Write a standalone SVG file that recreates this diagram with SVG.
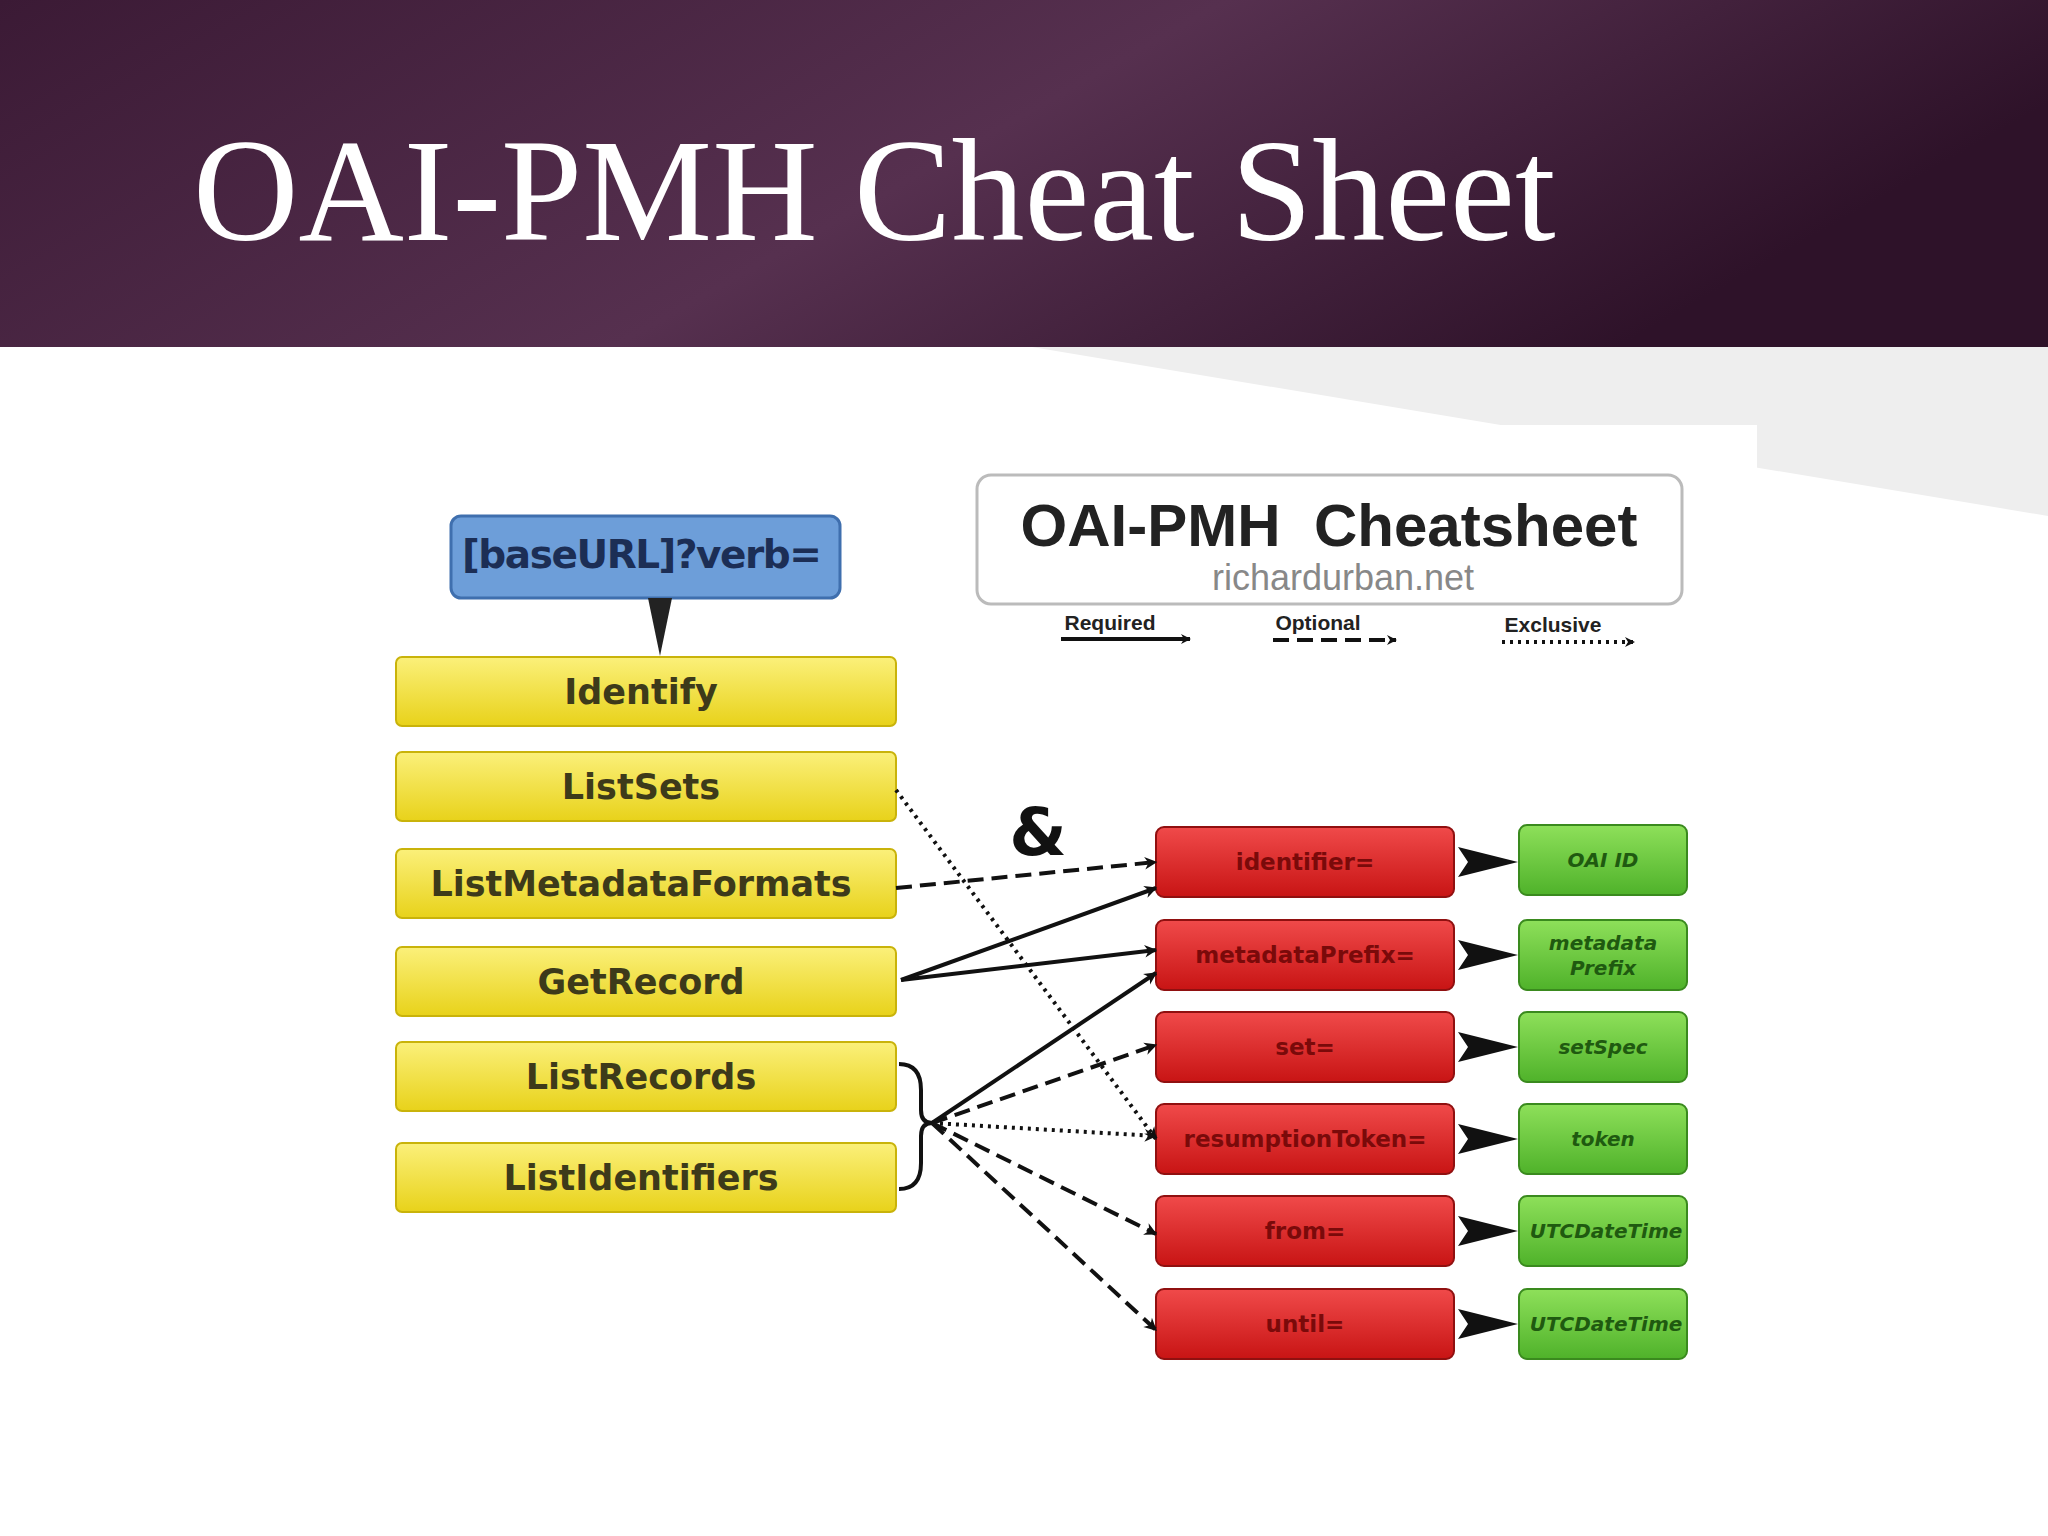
<svg xmlns="http://www.w3.org/2000/svg" width="2048" height="1536" viewBox="0 0 2048 1536">
<defs>
<linearGradient id="hdr" x1="0" y1="0" x2="1" y2="0.3">
<stop offset="0" stop-color="#3b1a35"/><stop offset="0.55" stop-color="#56304f"/><stop offset="1" stop-color="#2e1229"/>
</linearGradient>
<linearGradient id="yel" x1="0" y1="0" x2="0" y2="1"><stop offset="0" stop-color="#fbf07a"/><stop offset="1" stop-color="#e8d21a"/></linearGradient>
<linearGradient id="red" x1="0" y1="0" x2="0" y2="1"><stop offset="0" stop-color="#f04a4a"/><stop offset="1" stop-color="#c81414"/></linearGradient>
<linearGradient id="grn" x1="0" y1="0" x2="0" y2="1"><stop offset="0" stop-color="#8ee05a"/><stop offset="1" stop-color="#4fb22a"/></linearGradient>
<marker id="ah" viewBox="0 0 10 10" refX="9" refY="5" markerWidth="7" markerHeight="7" orient="auto" markerUnits="userSpaceOnUse" overflow="visible">
<path d="M0,0 L10,5 L0,10 L3,5 z" fill="#111" transform="scale(1.8) translate(-4,-2.2)"/>
</marker>
<marker id="lh" viewBox="0 0 10 10" refX="9" refY="5" markerWidth="14" markerHeight="10" orient="auto" markerUnits="userSpaceOnUse">
<path d="M0,0 L10,5 L0,10 L3,5 z" fill="#111"/>
</marker>
</defs>
<style>
.y{fill:url(#yel);stroke:#c9b30a;stroke-width:2}
.r{fill:url(#red);stroke:#901010;stroke-width:2}
.g{fill:url(#grn);stroke:#3a8a1e;stroke-width:2}
.yt{font-family:"DejaVu Sans",sans-serif;font-weight:bold;font-size:35px;fill:#3d3a1a;text-anchor:middle}
.rt{font-family:"DejaVu Sans",sans-serif;font-weight:bold;font-size:23px;fill:#7a0a0a;text-anchor:middle}
.gt{font-family:"DejaVu Sans",sans-serif;font-weight:bold;font-style:italic;font-size:20px;fill:#1f5a10;text-anchor:middle}
.c{fill:none;stroke:#111;stroke-width:4}
.dash{stroke-dasharray:16 8}
.dot{stroke-dasharray:3 5}
</style>
<rect width="2048" height="1536" fill="#ffffff"/>
<rect width="2048" height="347" fill="url(#hdr)"/>
<text x="193" y="240" font-family="Liberation Serif, serif" font-size="146" fill="#ffffff">OAI-PMH Cheat Sheet</text>
<polygon points="1032,347 2048,347 2048,516" fill="#eeeeee"/>
<rect x="379" y="425" width="1378" height="980" fill="#ffffff"/>

<g id="legend">
<rect x="977" y="475" width="705" height="129" rx="14" fill="#fff" stroke="#bbb" stroke-width="3"/>
<text x="1329" y="546" text-anchor="middle" font-family="Liberation Sans, sans-serif" font-weight="bold" font-size="60" fill="#222" xml:space="preserve">OAI-PMH  Cheatsheet</text>
<text x="1343" y="590" text-anchor="middle" font-family="Liberation Sans, sans-serif" font-size="36" fill="#888">richardurban.net</text>
<text x="1110" y="630" text-anchor="middle" font-family="Liberation Sans, sans-serif" font-weight="bold" font-size="21" fill="#222">Required</text>
<text x="1318" y="630" text-anchor="middle" font-family="Liberation Sans, sans-serif" font-weight="bold" font-size="21" fill="#222">Optional</text>
<text x="1553" y="632" text-anchor="middle" font-family="Liberation Sans, sans-serif" font-weight="bold" font-size="21" fill="#222">Exclusive</text>
<line x1="1061" y1="639" x2="1190" y2="639" class="c" marker-end="url(#lh)"/>
<line x1="1273" y1="640" x2="1396" y2="640" class="c dash" stroke-dasharray="12 5" marker-end="url(#lh)"/>
<line x1="1502" y1="642" x2="1634" y2="642" class="c dot" stroke-dasharray="3 4" marker-end="url(#lh)"/>
</g>

<g id="baseurl">
<rect x="451" y="516" width="389" height="82" rx="10" fill="#6d9ed9" stroke="#3f6fae" stroke-width="3"/>
<text x="642" y="568" text-anchor="middle" font-family="DejaVu Sans, sans-serif" font-size="39" font-weight="bold" fill="#1c2e55" textLength="360">[baseURL]?verb=</text>
<polygon points="648,598 672,598 660,656" fill="#222"/>
</g>

<g id="verbs">
<g id="identify"><rect class="y" x="396" y="657" width="500" height="69" rx="6"/><text class="yt" x="641" y="704">Identify</text></g>
<g id="listsets"><rect class="y" x="396" y="752" width="500" height="69" rx="6"/><text class="yt" x="641" y="799">ListSets</text></g>
<g id="listmetadataformats"><rect class="y" x="396" y="849" width="500" height="69" rx="6"/><text class="yt" x="641" y="896" font-size="35">ListMetadataFormats</text></g>
<g id="getrecord"><rect class="y" x="396" y="947" width="500" height="69" rx="6"/><text class="yt" x="641" y="994">GetRecord</text></g>
<g id="listrecords"><rect class="y" x="396" y="1042" width="500" height="69" rx="6"/><text class="yt" x="641" y="1089">ListRecords</text></g>
<g id="listidentifiers"><rect class="y" x="396" y="1143" width="500" height="69" rx="6"/><text class="yt" x="641" y="1190">ListIdentifiers</text></g>
</g>

<g id="params">
<g id="identifier"><rect class="r" x="1156" y="827" width="298" height="70" rx="8"/><text class="rt" x="1305" y="870">identifier=</text></g>
<g id="metadataprefix"><rect class="r" x="1156" y="920" width="298" height="70" rx="8"/><text class="rt" x="1305" y="963">metadataPrefix=</text></g>
<g id="set"><rect class="r" x="1156" y="1012" width="298" height="70" rx="8"/><text class="rt" x="1305" y="1055">set=</text></g>
<g id="resumptiontoken"><rect class="r" x="1156" y="1104" width="298" height="70" rx="8"/><text class="rt" x="1305" y="1147">resumptionToken=</text></g>
<g id="from"><rect class="r" x="1156" y="1196" width="298" height="70" rx="8"/><text class="rt" x="1305" y="1239">from=</text></g>
<g id="until"><rect class="r" x="1156" y="1289" width="298" height="70" rx="8"/><text class="rt" x="1305" y="1332">until=</text></g>
</g>

<g id="values">
<g id="oaiid"><rect class="g" x="1519" y="825" width="168" height="70" rx="8"/><text class="gt" x="1603" y="867">OAI ID</text></g>
<g id="mprefix"><rect class="g" x="1519" y="920" width="168" height="70" rx="8"/><text class="gt" x="1603" y="950">metadata</text><text class="gt" x="1603" y="975">Prefix</text></g>
<g id="setspec"><rect class="g" x="1519" y="1012" width="168" height="70" rx="8"/><text class="gt" x="1603" y="1054">setSpec</text></g>
<g id="token"><rect class="g" x="1519" y="1104" width="168" height="70" rx="8"/><text class="gt" x="1603" y="1146">token</text></g>
<g id="utc1"><rect class="g" x="1519" y="1196" width="168" height="70" rx="8"/><text class="gt" x="1606" y="1238" font-size="19">UTCDateTime</text></g>
<g id="utc2"><rect class="g" x="1519" y="1289" width="168" height="70" rx="8"/><text class="gt" x="1606" y="1331" font-size="19">UTCDateTime</text></g>
</g>

<g id="connectors">
<polygon points="1458,847 1518,862 1458,877 1468,862" fill="#111"/>
<polygon points="1458,940 1518,955 1458,970 1468,955" fill="#111"/>
<polygon points="1458,1032 1518,1047 1458,1062 1468,1047" fill="#111"/>
<polygon points="1458,1124 1518,1139 1458,1154 1468,1139" fill="#111"/>
<polygon points="1458,1216 1518,1231 1458,1246 1468,1231" fill="#111"/>
<polygon points="1458,1309 1518,1324 1458,1339 1468,1324" fill="#111"/>
<line class="c dot" x1="896" y1="790" x2="1156" y2="1139" marker-end="url(#ah)"/>
<line class="c dash" x1="896" y1="888" x2="1156" y2="862" marker-end="url(#ah)"/>
<line class="c" x1="901" y1="980" x2="1156" y2="888" marker-end="url(#ah)"/>
<line class="c" x1="901" y1="980" x2="1156" y2="950" marker-end="url(#ah)"/>
<path class="c" d="M899,1064 Q921,1064 921,1090 L921,1110 Q921,1123 932,1123 Q921,1123 921,1136 L921,1163 Q921,1189 899,1189"/>
<line class="c" x1="932" y1="1123" x2="1156" y2="973" marker-end="url(#ah)"/>
<line class="c dash" x1="932" y1="1123" x2="1156" y2="1045" marker-end="url(#ah)"/>
<line class="c dot" x1="932" y1="1123" x2="1156" y2="1136" marker-end="url(#ah)"/>
<line class="c dash" x1="932" y1="1123" x2="1156" y2="1234" marker-end="url(#ah)"/>
<line class="c dash" x1="932" y1="1123" x2="1156" y2="1330" marker-end="url(#ah)"/>
<text x="1038" y="855" text-anchor="middle" font-family="DejaVu Sans, sans-serif" font-weight="bold" font-size="66" fill="#111">&amp;</text>
</g>
</svg>
